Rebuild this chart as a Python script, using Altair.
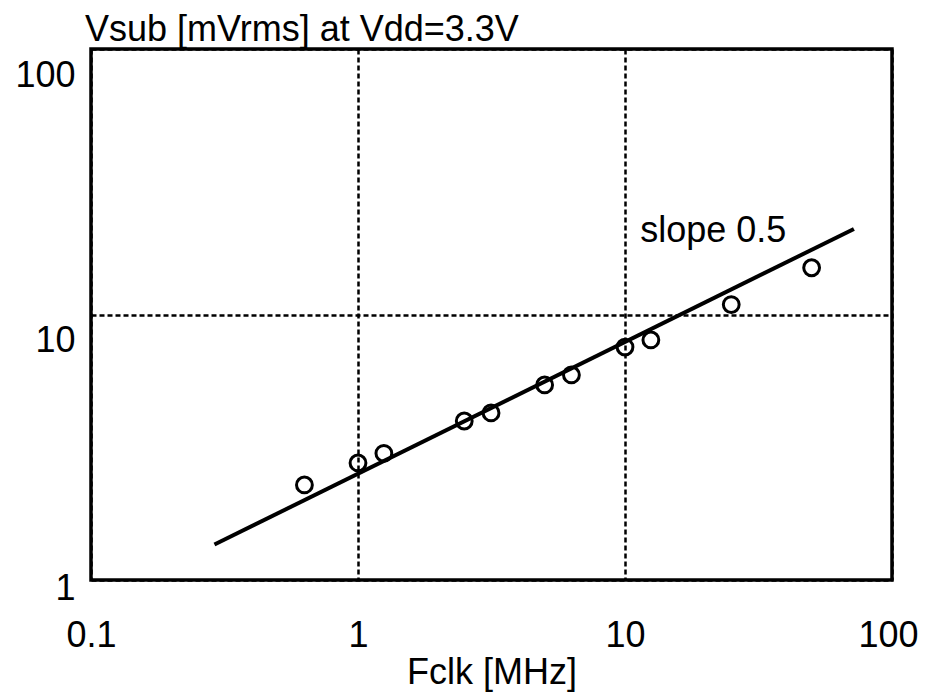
import altair as alt
import pandas as pd

# Measured points (Fclk in MHz, Vsub in mVrms)
fclk = [0.63, 1.0, 1.25, 2.5, 3.15, 5.0, 6.3, 10.0, 12.5, 25.0, 50.0]
vsub = [2.28, 2.76, 3.0, 3.97, 4.26, 5.43, 5.92, 7.54, 8.02, 10.9, 15.0]

# Fitted line (slope 0.5)
fit_x = [0.29, 72.0]
fit_y = [1.36, 21.0]

# Annotation
note_x = [11.4]
note_y = [18.8]
note_text = ["slope 0.5"]

tick_vals = [0.1, 1, 10, 100]
ytick_vals = [1, 10, 100]

FONT = "Liberation Sans, Arial"
FS = 36

pts = pd.DataFrame({"x": fclk, "y": vsub})
fit = pd.DataFrame({"x": fit_x, "y": fit_y})
note = pd.DataFrame({"x": note_x, "y": note_y, "t": note_text})

xscale = alt.Scale(type="log", domain=[0.1, 100], nice=False)
yscale = alt.Scale(type="log", domain=[1, 100], nice=False)

xaxis = alt.Axis(
    values=tick_vals, title="Fclk [MHz]", labelExpr="datum.value",
    grid=True, gridColor="black", gridDash=[5, 3], gridWidth=2.5, gridOpacity=1,
    ticks=False, domain=False, labelFontSize=FS, titleFontSize=FS,
    labelFont=FONT, titleFont=FONT, labelColor="black", titleColor="black",
    labelPadding=38, titlePadding=2, titleFontWeight="normal",
    labelFlush=False,
    labelOffset={"condition": {"test": "datum.value == 100", "value": -4},
                 "value": 0},
)
yaxis = alt.Axis(
    values=ytick_vals, title=None, labelExpr="datum.value",
    grid=True, gridColor="black", gridDash=[5, 3], gridWidth=2.5, gridOpacity=1,
    ticks=False, domain=False, labelFontSize=FS, labelFont=FONT,
    labelColor="black", labelPadding=16, labelFlush=False,
    labelOffset={"condition": {"test": "datum.value == 1", "value": 8},
                 "value": 26},
)

line = alt.Chart(fit).mark_line(color="black", strokeWidth=4).encode(
    x=alt.X("x:Q", scale=xscale, axis=xaxis),
    y=alt.Y("y:Q", scale=yscale, axis=yaxis),
)

points = alt.Chart(pts).mark_point(
    shape="circle", filled=False, color="black", strokeWidth=3, size=250, opacity=1
).encode(x=alt.X("x:Q", scale=xscale), y=alt.Y("y:Q", scale=yscale))

text = alt.Chart(note).mark_text(
    align="left", baseline="alphabetic", fontSize=FS, font=FONT, color="black"
).encode(x=alt.X("x:Q", scale=xscale), y=alt.Y("y:Q", scale=yscale), text="t:N")

chart = alt.layer(line, points, text).properties(
    width=801, height=531,
    autosize=alt.AutoSizeParams(type="none"),
    padding={"left": 83, "top": 41, "right": 27, "bottom": 112},
    title=alt.TitleParams(
        "Vsub [mVrms] at Vdd=3.3V", anchor="start", frame="group",
        fontSize=FS, font=FONT, fontWeight="normal", color="black",
        offset=0, dx=-6,
    ),
).configure(background="white").configure_view(stroke="black", strokeWidth=3.5)

chart.save("out.html", embed_options={"renderer": "svg", "actions": False})
